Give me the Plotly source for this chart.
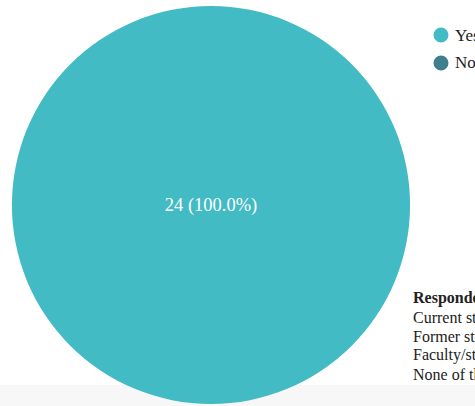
import plotly.graph_objects as go

labels = ["Yes", "No"]
values = [24, 0]
colors = ["#43BBC4", "#3E7E8D"]
side_title = "Respondents"
side_lines = ["Current students", "Former students", "Faculty/staff", "None of the above"]

W, H = 475, 406
FONT = "Liberation Serif, serif"
total = sum(values)
texts = [f"{v} ({v / total * 100:.1f}%)" if v > 0 else "" for v in values]

fig = go.Figure()
fig.add_trace(go.Pie(
    labels=labels, values=values, text=texts, textinfo="text",
    textposition="inside", insidetextorientation="horizontal",
    marker=dict(colors=colors, line=dict(width=0)),
    sort=False, direction="clockwise", showlegend=False, hoverinfo="skip",
    textfont=dict(family=FONT, size=18.5, color="white"),
    domain=dict(x=[12 / W, 410 / W], y=[1 - 404 / H, 1 - 6 / H]),
))

shapes = [dict(type="rect", xref="paper", yref="paper", x0=0, x1=1, y0=0, y1=1 - 385 / H,
               fillcolor="#f7f7f7", line=dict(width=0), layer="below")]
annotations = []
for i, (lab, col) in enumerate(zip(labels, colors)):
    cy = 35 + i * 28
    shapes.append(dict(type="circle", xref="paper", yref="paper",
                       x0=(441 - 7.5) / W, x1=(441 + 7.5) / W,
                       y0=1 - (cy + 7.5) / H, y1=1 - (cy - 7.5) / H,
                       fillcolor=col, line=dict(width=0)))
    annotations.append(dict(x=453 / W, y=1 - cy / H, xref="paper", yref="paper",
                            text=lab, showarrow=False, xanchor="left", yanchor="middle",
                            font=dict(family=FONT, size=17, color="#222")))

annotations.append(dict(x=411 / W, y=1 - 298 / H, xref="paper", yref="paper",
                        text=f"<b>{side_title}</b>", showarrow=False, xanchor="left",
                        yanchor="middle", font=dict(family=FONT, size=16, color="#222")))
for j, line in enumerate(side_lines):
    annotations.append(dict(x=411 / W, y=1 - (317 + j * 19) / H, xref="paper", yref="paper",
                            text=line, showarrow=False, xanchor="left", yanchor="middle",
                            font=dict(family=FONT, size=16, color="#222")))

fig.update_layout(width=W, height=H, margin=dict(l=0, r=0, t=0, b=0),
                  paper_bgcolor="white", plot_bgcolor="white",
                  shapes=shapes, annotations=annotations)
fig.write_html("out.html")
